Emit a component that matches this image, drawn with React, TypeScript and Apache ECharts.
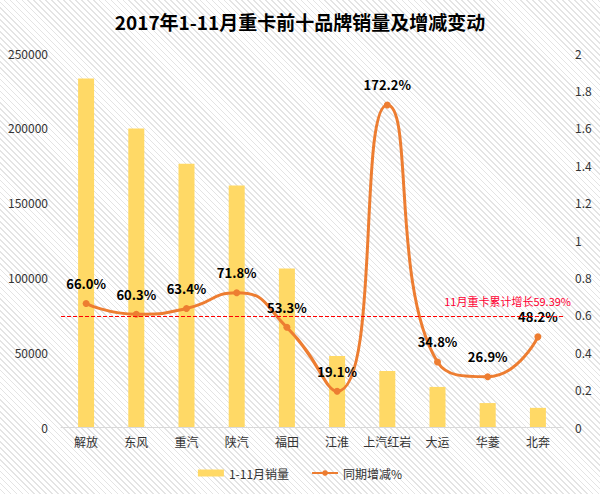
import React, { useEffect, useRef } from "react";
import * as echarts from "echarts";

const categories = ["解放", "东风", "重汽", "陕汽", "福田", "江淮", "上汽红岩", "大运", "华菱", "北奔"];
const salesValues = [233000, 199500, 176000, 161500, 106000, 47500, 37500, 26800, 16000, 12800];
const growthValues = [0.66, 0.603, 0.634, 0.718, 0.533, 0.191, 1.722, 0.348, 0.269, 0.482];
const cumulativeGrowth = 0.5939;
const leftTicks = { min: 0, max: 250000, interval: 50000 };
const rightTicks = { min: 0, max: 2, interval: 0.2 };

const FONT = "'Noto Sans CJK SC', 'Microsoft YaHei', sans-serif";

export default function App() {
  const ref = useRef<HTMLDivElement>(null);
  useEffect(() => {
    if (!ref.current) return;
    const chart = echarts.init(ref.current, null, { renderer: "svg" });
    chart.setOption({
      animation: false,
      textStyle: { fontFamily: FONT },
      title: {
        text: "2017年1-11月重卡前十品牌销量及增减变动",
        left: "center",
        top: 7,
        textStyle: { fontSize: 19, fontWeight: "bold", color: "#000", fontFamily: FONT },
      },
      legend: {
        bottom: 10,
        left: "center",
        itemGap: 22,
        itemWidth: 26,
        itemHeight: 7,
        textStyle: { fontSize: 12, color: "#333", fontFamily: FONT },
        data: [
          { name: "1-11月销量", icon: "rect" },
          { name: "同期增减%" },
        ],
      },
      grid: { left: 61, right: 37, top: 53, bottom: 67 },
      xAxis: {
        type: "category",
        data: categories,
        axisLine: { lineStyle: { color: "#d9d9d9" } },
        axisTick: { show: false },
        axisLabel: { color: "#333", fontSize: 12, margin: 8, interval: 0 },
      },
      yAxis: [
        {
          type: "value",
          ...leftTicks,
          splitLine: { show: false },
          axisLine: { show: false },
          axisTick: { show: false },
          axisLabel: { color: "#333", fontSize: 12, margin: 13, formatter: (v: number) => String(v) },
        },
        {
          type: "value",
          ...rightTicks,
          splitLine: { show: false },
          axisLine: { show: false },
          axisTick: { show: false },
          axisLabel: { color: "#333", fontSize: 12, margin: 12 },
        },
      ],
      series: [
        {
          name: "1-11月销量",
          type: "bar",
          data: salesValues,
          barWidth: 16,
          itemStyle: { color: "#FFD966" },
        },
        {
          name: "同期增减%",
          type: "line",
          yAxisIndex: 1,
          data: growthValues,
          smooth: 0.55,
          symbol: "circle",
          symbolSize: 7,
          lineStyle: { color: "#ED7D31", width: 3 },
          itemStyle: { color: "#ED7D31" },
          label: {
            show: true,
            position: "top",
            distance: 10,
            color: "#000",
            fontSize: 13,
            fontWeight: "bold",
            formatter: (p: any) => (p.value * 100).toFixed(1) + "%",
          },
          markLine: {
            silent: true,
            symbol: "none",
            data: [{ yAxis: cumulativeGrowth }],
            lineStyle: { color: "#FF0000", type: "dashed", width: 1 },
            label: {
              show: true,
              position: "insideEndTop",
              distance: [-8, 10],
              color: "#FF0033",
              fontSize: 11,
              formatter: "11月重卡累计增长" + (cumulativeGrowth * 100).toFixed(2) + "%",
            },
          },
        },
      ],
    });
    return () => chart.dispose();
  }, []);
  return (
    <div
      ref={ref}
      style={{
        position: "absolute",
        left: 0,
        top: 0,
        width: 600,
        height: 494,
        backgroundColor: "#fff",
        backgroundImage:
          "repeating-linear-gradient(45deg, #ffffff 0px, #ffffff 3px, #e4e4e4 3px, #e4e4e4 4.2px)",
      }}
    />
  );
}
